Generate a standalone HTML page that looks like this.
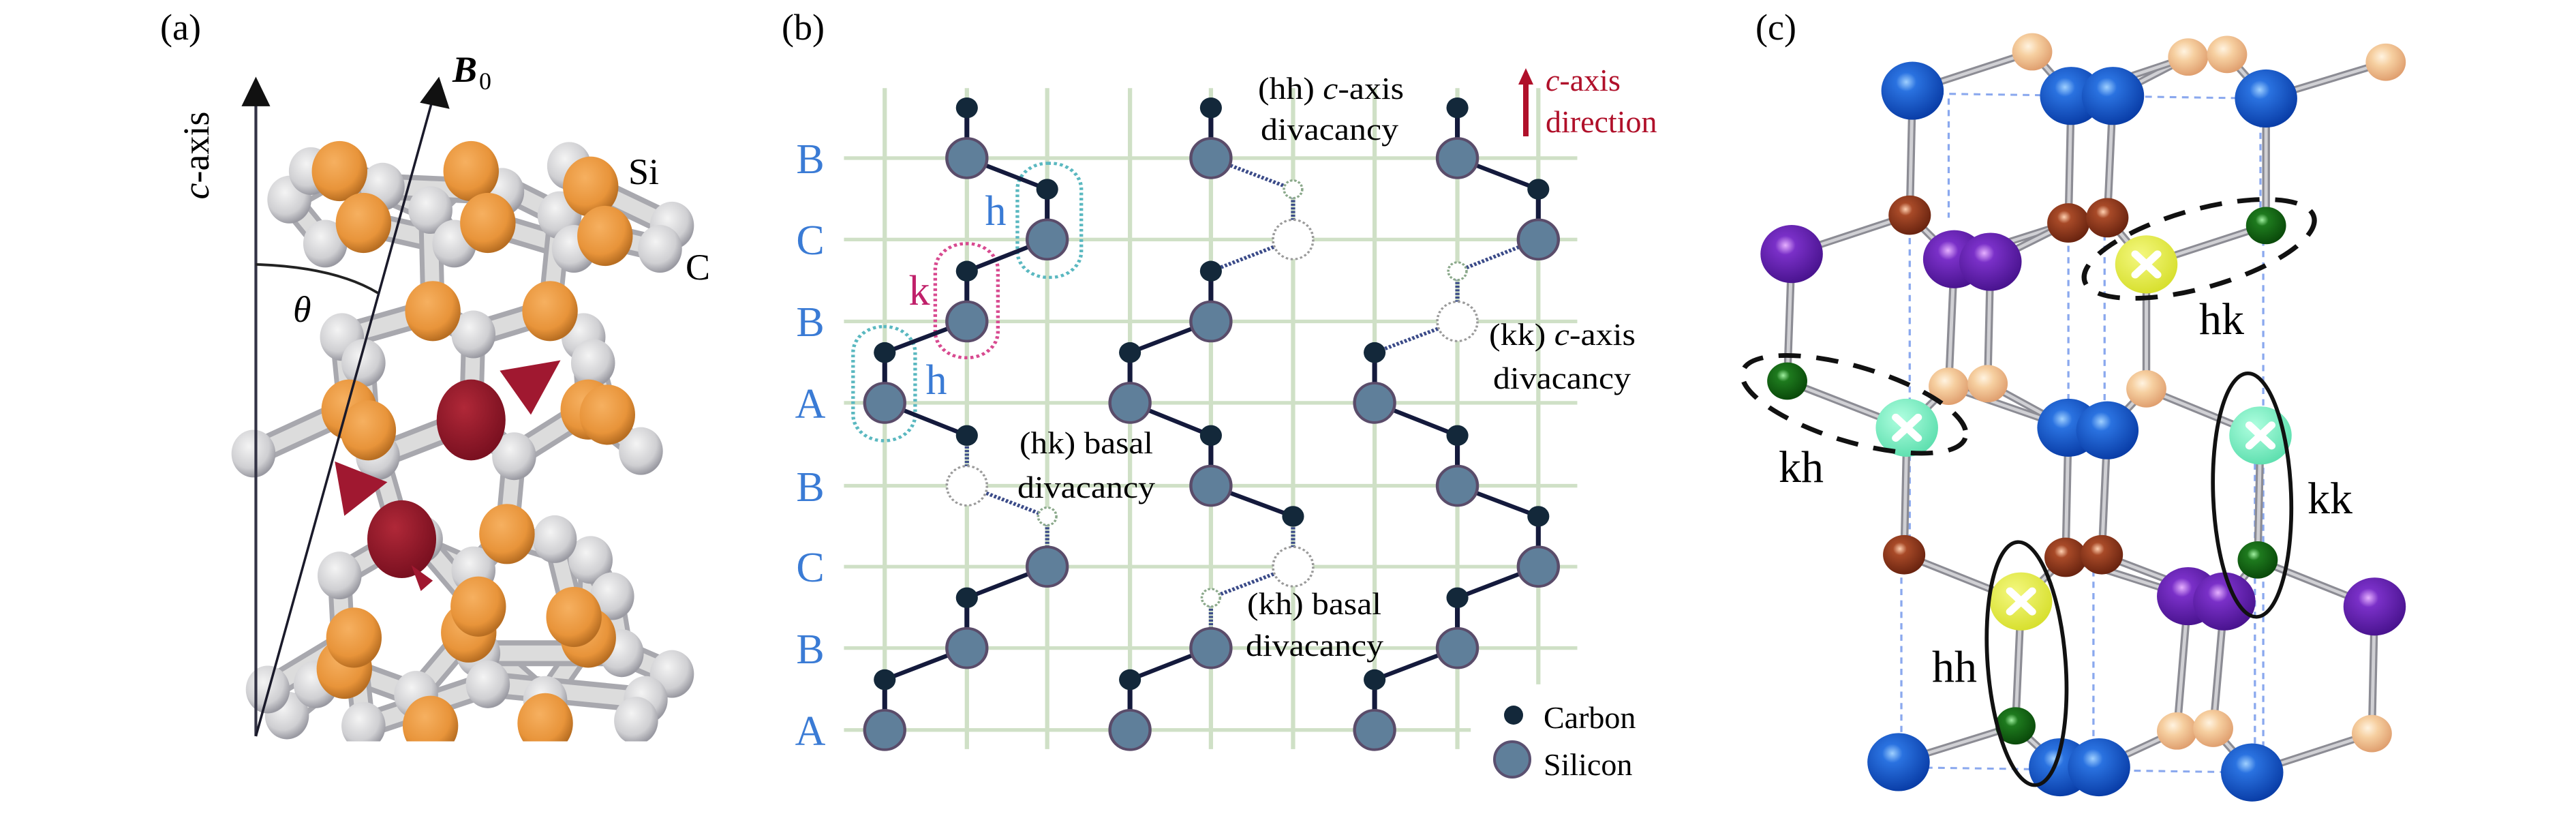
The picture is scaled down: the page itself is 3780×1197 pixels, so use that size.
<!DOCTYPE html>
<html><head><meta charset="utf-8"><style>
html,body{margin:0;padding:0;background:#fff;}
svg{display:block;}
svg text{font-family:"Liberation Serif","Times New Roman",serif;}
</style></head><body>
<svg id="s" xmlns="http://www.w3.org/2000/svg" width="3780" height="1197" viewBox="0 0 3780 1197" font-family="Liberation Serif, serif">
<defs>
<radialGradient id="gG" cx="40%" cy="35%" r="65%"><stop offset="0" stop-color="#f4f4f4"/><stop offset="0.7" stop-color="#cfcfd2"/><stop offset="1" stop-color="#9a9aa2"/></radialGradient>
<radialGradient id="gO" cx="40%" cy="35%" r="65%"><stop offset="0" stop-color="#f6b060"/><stop offset="0.7" stop-color="#e8943a"/><stop offset="1" stop-color="#b86e22"/></radialGradient>
<radialGradient id="gR" cx="40%" cy="35%" r="65%"><stop offset="0" stop-color="#b02838"/><stop offset="1" stop-color="#7a1020"/></radialGradient>
<radialGradient id="cB" cx="40%" cy="35%" r="65%"><stop offset="0" stop-color="#9fd0ff"/><stop offset="0.25" stop-color="#2a72e0"/><stop offset="1" stop-color="#0a3ea8"/></radialGradient>
<radialGradient id="cP" cx="40%" cy="35%" r="65%"><stop offset="0" stop-color="#fff3e0"/><stop offset="0.4" stop-color="#f6cfa0"/><stop offset="1" stop-color="#e0a070"/></radialGradient>
<radialGradient id="cBr" cx="40%" cy="35%" r="65%"><stop offset="0" stop-color="#ffd0b0"/><stop offset="0.25" stop-color="#a84a28"/><stop offset="1" stop-color="#6a2410"/></radialGradient>
<radialGradient id="cV" cx="40%" cy="35%" r="65%"><stop offset="0" stop-color="#e6b0ff"/><stop offset="0.25" stop-color="#7a30c8"/><stop offset="1" stop-color="#4a1490"/></radialGradient>
<radialGradient id="cGr" cx="40%" cy="35%" r="65%"><stop offset="0" stop-color="#a0f0a0"/><stop offset="0.25" stop-color="#1e7a1e"/><stop offset="1" stop-color="#0a4a0a"/></radialGradient>
<radialGradient id="cY" cx="40%" cy="35%" r="65%"><stop offset="0" stop-color="#f4f880"/><stop offset="1" stop-color="#d8e030"/></radialGradient>
<radialGradient id="cT" cx="40%" cy="35%" r="65%"><stop offset="0" stop-color="#b0ffe0"/><stop offset="1" stop-color="#60e0b0"/></radialGradient>
<clipPath id="clipA"><rect x="0" y="0" width="1600" height="1430"/></clipPath>
</defs>
<g id="pa" transform="translate(0,0) scale(0.7018,0.7605)"></g>
<g id="pb" transform="translate(1100,0) scale(0.893,0.7605)"></g>
<g id="pc" transform="translate(2500,0) scale(0.8170,0.7605)"></g>

<!-- text panel a -->
<text x="235" y="58" font-size="54" font-family="Liberation Serif, serif">(a)</text>
<text x="664" y="120" font-size="54" font-weight="bold" font-style="italic" font-family="Liberation Serif, serif">B</text>
<text x="703" y="131" font-size="36" font-family="Liberation Serif, serif">0</text>
<text transform="translate(306,228) rotate(-90)" text-anchor="middle" font-size="54" font-family="Liberation Serif, serif"><tspan font-style="italic">c</tspan>-axis</text>
<text x="430" y="472" font-size="54" font-style="italic" font-family="Liberation Serif, serif">θ</text>
<text x="922" y="270" font-size="54" font-family="Liberation Serif, serif">Si</text>
<text x="1006" y="410" font-size="54" font-family="Liberation Serif, serif">C</text>

<!-- text panel b -->
<text x="1147" y="58" font-size="54" font-family="Liberation Serif, serif">(b)</text>
<g font-size="62" fill="#3a7bd5" text-anchor="middle" font-family="Liberation Serif, serif">
<text x="1189" y="254">B</text><text x="1189" y="373">C</text><text x="1189" y="493">B</text><text x="1189" y="613">A</text>
<text x="1189" y="735">B</text><text x="1189" y="853">C</text><text x="1189" y="973">B</text><text x="1189" y="1093">A</text>
<text x="1461" y="330">h</text><text x="1374" y="578">h</text>
</g>
<text x="1349" y="447" font-size="62" fill="#c0206a" text-anchor="middle" font-family="Liberation Serif, serif">k</text>
<g font-size="46" font-family="Liberation Serif, serif">
<text x="1846" y="145" textLength="214" lengthAdjust="spacingAndGlyphs">(hh) <tspan font-style="italic">c</tspan>-axis</text>
<text x="1850" y="205" textLength="202" lengthAdjust="spacingAndGlyphs">divacancy</text>
<text x="1496" y="665" textLength="196" lengthAdjust="spacingAndGlyphs">(hk) basal</text>
<text x="1493" y="730" textLength="202" lengthAdjust="spacingAndGlyphs">divacancy</text>
<text x="1830" y="901" textLength="197" lengthAdjust="spacingAndGlyphs">(kh) basal</text>
<text x="1828" y="962" textLength="202" lengthAdjust="spacingAndGlyphs">divacancy</text>
<text x="2185" y="506" textLength="215" lengthAdjust="spacingAndGlyphs">(kk) <tspan font-style="italic">c</tspan>-axis</text>
<text x="2191" y="570" textLength="202" lengthAdjust="spacingAndGlyphs">divacancy</text>
<text x="2265" y="1068">Carbon</text>
<text x="2265" y="1137">Silicon</text>
</g>
<g fill="#b0102a" font-size="46" font-family="Liberation Serif, serif">
<text x="2268" y="133"><tspan font-style="italic">c</tspan>-axis</text>
<text x="2268" y="194">direction</text>
</g>
<line x1="2239" y1="200" x2="2239" y2="120" stroke="#b0102a" stroke-width="8"/>
<polygon points="2239,100 2228,124 2250,124" fill="#b0102a"/>
<circle cx="2221" cy="1049" r="14" fill="#13283a"/>
<circle cx="2219" cy="1114" r="26" fill="#5f7f9a" stroke="#5a5070" stroke-width="4"/>

<!-- text panel c -->
<text x="2576" y="58" font-size="54" font-family="Liberation Serif, serif">(c)</text>
<g font-size="66" font-family="Liberation Serif, serif">
<text x="3227" y="490">hk</text>
<text x="2610" y="707">kh</text>
<text x="3386" y="753">kk</text>
<text x="2835" y="1000">hh</text>
</g>
</svg>
<script>
var NS="http://www.w3.org/2000/svg";
function el(g,t,a){var e=document.createElementNS(NS,t);for(var k in a)e.setAttribute(k,a[k]);g.appendChild(e);return e;}
/* ---------- panel a ---------- */
var pa=document.getElementById('pa');
var A=el(pa,'g',{'clip-path':'url(#clipA)'});
var Gs={G1:[605,385],G2:[900,405],G3:[1170,415],G4:[1405,435],G5:[715,650],G6:[990,645],G7:[1220,650],G8:[530,875],G9:[790,880],G10:[1075,880],G11:[1340,870],G12:[710,1110],G13:[990,1100],G14:[1235,1080],G15:[600,1380],G16:[870,1340],G17:[1140,1350],G18:[1405,1300],Gb1:[680,470],Gb2:[950,470],Gb3:[1200,480],Gb4:[1380,480],Gb5:[1280,1150],Gb6:[1000,1260],Gb7:[1300,1260],
Gx1:[650,330],Gx2:[1190,320],Gx3:[1050,370],Gx4:[800,360],Gx5:[1240,700],Gx6:[760,700],Gx7:[1160,1040],Gx8:[880,1040],Gx9:[660,1320],Gx10:[1350,1350],Gx11:[760,1400],Gx12:[1020,1320],Gx13:[1330,1390],Gx14:[560,1330]};
var Os={O1:[710,330],O2:[985,330],O3:[1235,360],O4:[905,600],O5:[1150,600],O6:[730,790],O7:[1230,790],O8:[1060,1030],O9:[720,1290],O10:[980,1220],O11:[1230,1230],O12:[900,1400],O13:[1140,1395],Ob1:[760,430],Ob2:[1020,430],Ob3:[1265,455],Ox1:[770,830],Ox2:[1200,1190],Ox3:[740,1230],Ox4:[1000,1170],Ox5:[1270,800]};
var P={};for(var k in Gs)P[k]=Gs[k];for(var k in Os)P[k]=Os[k];P.R1=[985,810];P.R2=[840,1040];
var bonds=[['G1','O1'],['O1','G2'],['G2','O2'],['O2','G3'],['G3','O3'],['O3','G4'],['Gb1','Ob1'],['Ob1','Gb2'],['Gb2','Ob2'],['Ob2','Gb3'],['Gb3','Ob3'],['Ob3','Gb4'],['G1','Gb1'],['G2','Gb2'],['G3','Gb3'],['G4','Gb4'],
['G2','O4'],['G3','O5'],['O4','G5'],['O4','G6'],['O5','G6'],['O5','G7'],['G5','O6'],['G6','R1'],['G7','O7'],['O6','G8'],['O6','G9'],['G9','R1'],['R1','G10'],['O7','G10'],['O7','G11'],
['G9','R2'],['G10','O8'],['R2','G12'],['R2','G13'],['O8','G13'],['O8','G14'],['G12','O9'],['G13','O10'],['G14','O11'],['O9','G15'],['O9','G16'],['O10','G16'],['O10','G17'],['O11','G17'],['O11','G18'],['G14','Gb5'],['Gb5','Gb7'],['O10','Gb6'],['Gb6','Gb7'],['G16','O12'],['G17','O13'],
['Gx1','O1'],['Gx4','O1'],['Gx3','O2'],['Gx2','O3'],['Gx4','Gx3'],['Gx6','Ox1'],['Gx5','Ox5'],['Gx7','Ox2'],['Gx8','Ox4'],['Gx9','Ox3'],['Gx14','Ox3'],['Gx11','Gx12'],['Gx12','Gx10'],['Gx10','Gx13'],['Gx11','Ox3']];
bonds.forEach(function(b){var p=P[b[0]],q=P[b[1]];el(A,'line',{x1:p[0],y1:p[1],x2:q[0],y2:q[1],stroke:'#a8a8ae','stroke-width':50,'stroke-linecap':'round'});el(A,'line',{x1:p[0],y1:p[1],x2:q[0],y2:q[1],stroke:'#dcdcdc','stroke-width':30,'stroke-linecap':'round'});});
for(var k in Gs)el(A,'circle',{cx:Gs[k][0],cy:Gs[k][1],r:46,fill:'url(#gG)'});
for(var k in Os)el(A,'circle',{cx:Os[k][0],cy:Os[k][1],r:58,fill:'url(#gO)'});
el(A,'ellipse',{cx:985,cy:810,rx:72,ry:78,fill:'url(#gR)'});
el(A,'polygon',{points:'1045,715 1172,695 1110,800',fill:'#a01830'});
el(A,'ellipse',{cx:840,cy:1040,rx:72,ry:75,fill:'url(#gR)'});
el(A,'polygon',{points:'700,890 810,930 720,995',fill:'#a01830'});
el(A,'polygon',{points:'860,1090 905,1120 880,1140',fill:'#a01830'});
/* axes */
el(pa,'line',{x1:535,y1:1420,x2:535,y2:190,stroke:'#333345','stroke-width':6});
el(pa,'polygon',{points:'535,148 505,205 565,205',fill:'#111'});
el(pa,'line',{x1:535,y1:1420,x2:905,y2:190,stroke:'#1a1a2a','stroke-width':5});
el(pa,'polygon',{points:'918,148 878,198 940,210',fill:'#111'});
el(pa,'path',{d:'M535,510 Q700,515 790,565',fill:'none',stroke:'#222','stroke-width':5});
/* ---------- panel b ---------- */
var pb=document.getElementById('pb');
var L=[222,357,489,625,758,893,1027,1163,1296],Y=[305,462,620,777,937,1093,1250,1408],pos=[1,2,1,0,1,2,1,0];
L.forEach(function(x,i){el(pb,'line',{x1:x,y1:170,x2:x,y2:(i==8?1320:1445),stroke:'#cfe0c6','stroke-width':7});});
Y.forEach(function(y,i){el(pb,'line',{x1:155,y1:y,x2:(i==7?1185:1360),y2:y,stroke:'#cfe0c6','stroke-width':7});});
el(pb,'rect',{x:440,y:315,width:105,height:220,rx:50,fill:'none',stroke:'#5ab8c0','stroke-width':6,'stroke-dasharray':'5 5'});
el(pb,'rect',{x:305,y:470,width:103,height:220,rx:50,fill:'none',stroke:'#d84a90','stroke-width':6,'stroke-dasharray':'5 5'});
el(pb,'rect',{x:170,y:630,width:102,height:220,rx:50,fill:'none',stroke:'#5ab8c0','stroke-width':6,'stroke-dasharray':'5 5'});
var vac={'0S4':1,'0C5':1,'1C1':1,'1S1':1,'1S5':1,'1C6':1,'2C2':1,'2S2':1};
for(var c=0;c<3;c++){var base=c*3;var S=[],C=[];
 for(var i=0;i<8;i++){var x=L[base+pos[i]];S.push([x,Y[i]]);C.push([x,Y[i]-97]);}
 var lines=[];
 for(var i=0;i<8;i++){lines.push([C[i],S[i],vac[c+'C'+i]||vac[c+'S'+i]]);if(i>0)lines.push([S[i-1],C[i],vac[c+'S'+(i-1)]||vac[c+'C'+i]]);}
 lines.forEach(function(l){el(pb,'line',{x1:l[0][0],y1:l[0][1],x2:l[1][0],y2:l[1][1],stroke:l[2]?'#3a4a88':'#141a3c','stroke-width':l[2]?7:8,'stroke-dasharray':l[2]?'4 3':'none'});});
 for(var i=0;i<8;i++){
  if(vac[c+'S'+i])el(pb,'ellipse',{cx:S[i][0],cy:S[i][1],rx:33,ry:38,fill:'#fff',stroke:'#9a9a9a','stroke-width':4,'stroke-dasharray':'4 4'});
  else el(pb,'ellipse',{cx:S[i][0],cy:S[i][1],rx:33,ry:38,fill:'#5f7f9a',stroke:'#5a4c6a','stroke-width':5});
  if(vac[c+'C'+i])el(pb,'ellipse',{cx:C[i][0],cy:C[i][1],rx:15,ry:17,fill:'#fff',stroke:'#8aa88a','stroke-width':4,'stroke-dasharray':'4 3'});
  else el(pb,'ellipse',{cx:C[i][0],cy:C[i][1],rx:18,ry:20,fill:'#13283a'});
 }}
/* ---------- panel c ---------- */
var pc=document.getElementById('pc');
var dl=[[375,180,1010,190],[370,415,370,1070],[655,430,655,1075],[720,430,720,1075],[1005,440,1005,1480],[355,1070,355,1470],[700,1100,700,1480],[990,850,990,1480],[355,1480,990,1490],[440,190,440,420],[1000,190,1000,400]];
dl.forEach(function(d){el(pc,'line',{x1:d[0],y1:d[1],x2:d[2],y2:d[3],stroke:'#8aa8ee','stroke-width':4,'stroke-dasharray':'12 10'});});
var Q={b1:[375,175],b2:[660,185],b3:[735,185],b4:[1010,190],b5:[655,825],b6:[725,830],b7:[350,1470],b8:[640,1480],b9:[710,1480],b10:[985,1490],
p1:[590,100],p2:[870,110],p3:[940,105],p4:[1225,120],p5:[440,745],p6:[510,740],p7:[795,750],p8:[850,1410],p9:[915,1405],p10:[1200,1415],
r1:[370,415],r2:[655,430],r3:[725,420],r4:[360,1070],r5:[650,1075],r6:[715,1070],
v1:[158,490],v2:[450,500],v3:[515,505],v4:[870,1150],v5:[935,1160],v6:[1205,1170],
g1:[1010,435],g2:[150,735],g3:[995,1080],g4:[560,1400],y1:[795,510],y2:[570,1160],t1:[365,825],t2:[1000,840]};
var cb=[['b1','p1'],['p1','b2'],['b3','p2'],['p3','b4'],['b4','p4'],['p2','b2'],['b1','r1'],['b2','r2'],['b3','r3'],['b4','g1'],['r1','v1'],['r1','v2'],['r2','v2'],['r2','v3'],['r3','y1'],['y1','g1'],['v1','g2'],['v2','p5'],['v3','p6'],['y1','p7'],['g2','t1'],['t1','p5'],['p5','b5'],['p6','b5'],['p7','b6'],['p7','t2'],['t1','r4'],['b5','r5'],['b6','r6'],['t2','g3'],['r4','y2'],['r5','v4'],['r6','v5'],['g3','v6'],['g3','v5'],['y2','g4'],['g4','b7'],['g4','b8'],['v4','p8'],['v5','p9'],['v6','p10'],['p8','b9'],['p9','b10'],['p10','b10'],['y2','r5']];
cb.forEach(function(b){var p=Q[b[0]],q=Q[b[1]];el(pc,'line',{x1:p[0],y1:p[1],x2:q[0],y2:q[1],stroke:'#8c8c94','stroke-width':14});el(pc,'line',{x1:p[0],y1:p[1],x2:q[0],y2:q[1],stroke:'#d0d0d4','stroke-width':6});});
var fills={b:['url(#cB)',56],p:['url(#cP)',36],r:['url(#cBr)',38],v:['url(#cV)',56],g:['url(#cGr)',36],y:['url(#cY)',56],t:['url(#cT)',56]};
var order=['b1','b2','b3','b4','p1','p2','p3','p4','r1','r2','r3','v1','v2','v3','g1','y1','g2','p5','p6','p7','b5','b6','t1','t2','r4','r5','r6','y2','g3','v4','v5','v6','g4','p8','p9','p10','b7','b8','b9','b10'];
order.forEach(function(k){var f=fills[k.replace(/[0-9]/g,'')];el(pc,'circle',{cx:Q[k][0],cy:Q[k][1],r:f[1],fill:f[0]});
 if(k[0]=='y'||k[0]=='t'){var x=Q[k][0],y=Q[k][1];el(pc,'path',{d:'M'+(x-20)+','+(y-20)+'L'+(x+20)+','+(y+20)+'M'+(x+20)+','+(y-20)+'L'+(x-20)+','+(y+20),stroke:'#fff','stroke-width':14,'stroke-linecap':'round'});}});
el(pc,'ellipse',{cx:890,cy:480,rx:215,ry:75,transform:'rotate(-17 890 480)',fill:'none',stroke:'#111','stroke-width':9,'stroke-dasharray':'40 28'});
el(pc,'ellipse',{cx:270,cy:780,rx:210,ry:72,transform:'rotate(18 270 780)',fill:'none',stroke:'#111','stroke-width':9,'stroke-dasharray':'40 28'});
el(pc,'ellipse',{cx:985,cy:955,rx:70,ry:235,transform:'rotate(-2 985 955)',fill:'none',stroke:'#111','stroke-width':7});
el(pc,'ellipse',{cx:580,cy:1280,rx:70,ry:235,transform:'rotate(-4 580 1280)',fill:'none',stroke:'#111','stroke-width':7});
</script>
</body></html>
